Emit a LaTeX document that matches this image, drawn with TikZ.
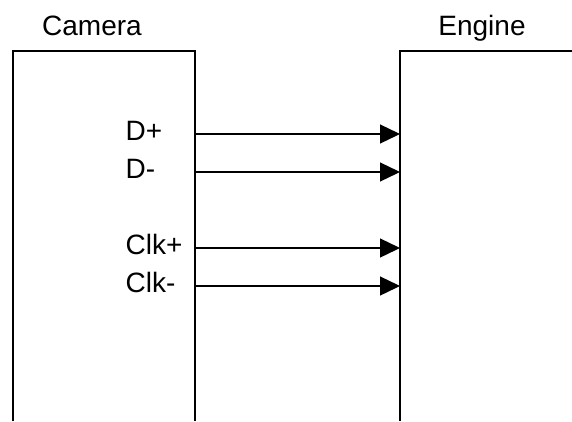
\documentclass[tikz,border=0pt]{standalone}
\usepackage{fontspec}
\setmainfont{Liberation Sans}
\usetikzlibrary{arrows.meta}

\begin{document}
\begin{tikzpicture}[x=1pt,y=-1pt,line width=1.3pt,
    every node/.style={font=\fontsize{28}{34}\selectfont,inner sep=0pt},
    signal/.style={-{Triangle[length=20pt,width=19pt]}}]
    \useasboundingbox (0,0) rectangle (572,421);

    % Camera and engine blocks
    \draw (13,421) |- (195,51) -- (195,421);
    \draw (400,421) |- (572,51);
    \node[anchor=base] (camera) at (92,35) {Camera};
    \node[anchor=base] (engine) at (482,35) {Engine};

    % Signal lines
    \foreach \lbl/\y [count=\i] in {D+/134,D-/172,Clk+/248,Clk-/286} {
        \coordinate (tx\i) at (195,\y);
        \coordinate (rx\i) at (400,\y);
        \node[anchor=base west] (lbl\i) at (125,\y+6) {\lbl};
        \draw[signal] (tx\i) -- (rx\i);
    }
\end{tikzpicture}
\end{document}
